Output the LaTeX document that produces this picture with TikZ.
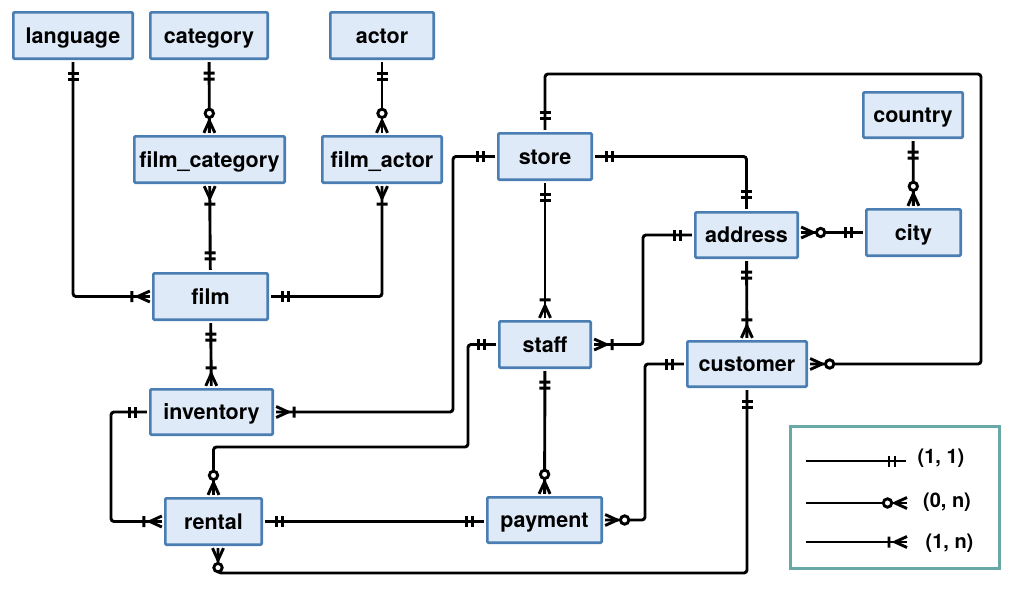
\documentclass[tikz,border=0pt]{standalone}
\usepackage{fontspec}
\setmainfont{TeX Gyre Heros}
\usetikzlibrary{arrows.meta}
\definecolor{boxfill}{RGB}{222,234,247}
\definecolor{boxline}{RGB}{74,126,178}
\definecolor{legline}{RGB}{104,168,166}

% (1,1): two bars
\pgfdeclarearrow{
  name = OneOne,
  parameters = {\the\pgflinewidth},
  setup code = {
    \pgfarrowssettipend{0pt}
    \pgfarrowssetlineend{0pt}
    \pgfarrowssetbackend{-20pt}
    \pgfarrowshullpoint{0pt}{6pt}
    \pgfarrowshullpoint{0pt}{-6pt}
    \pgfarrowshullpoint{-20pt}{6pt}
    \pgfarrowshullpoint{-20pt}{-6pt}
  },
  drawing code = {
    \pgfsetdash{}{0pt}
    \pgfsetbuttcap
    \pgfpathmoveto{\pgfqpoint{-11pt}{-5.5pt}}
    \pgfpathlineto{\pgfqpoint{-11pt}{5.5pt}}
    \pgfpathmoveto{\pgfqpoint{-17pt}{-5.5pt}}
    \pgfpathlineto{\pgfqpoint{-17pt}{5.5pt}}
    \pgfusepathqstroke
  },
}
% (1,n): crow's foot and a bar
\pgfdeclarearrow{
  name = OneMany,
  parameters = {\the\pgflinewidth},
  setup code = {
    \pgfarrowssettipend{0pt}
    \pgfarrowssetlineend{0pt}
    \pgfarrowssetbackend{-20pt}
    \pgfarrowshullpoint{0pt}{6pt}
    \pgfarrowshullpoint{0pt}{-6pt}
    \pgfarrowshullpoint{-20pt}{6pt}
    \pgfarrowshullpoint{-20pt}{-6pt}
  },
  drawing code = {
    \pgfsetdash{}{0pt}
    \pgfsetbuttcap
    \pgfsetmiterjoin
    \pgfpathmoveto{\pgfqpoint{0pt}{5.5pt}}
    \pgfpathlineto{\pgfqpoint{-12pt}{0pt}}
    \pgfpathlineto{\pgfqpoint{0pt}{-5.5pt}}
    \pgfpathmoveto{\pgfqpoint{-18pt}{-5.5pt}}
    \pgfpathlineto{\pgfqpoint{-18pt}{5.5pt}}
    \pgfusepathqstroke
  },
}
% (0,n): crow's foot and a circle
\pgfdeclarearrow{
  name = ZeroMany,
  parameters = {\the\pgflinewidth},
  setup code = {
    \pgfarrowssettipend{0pt}
    \pgfarrowssetlineend{0pt}
    \pgfarrowssetbackend{-25pt}
    \pgfarrowshullpoint{0pt}{6pt}
    \pgfarrowshullpoint{0pt}{-6pt}
    \pgfarrowshullpoint{-25pt}{6pt}
    \pgfarrowshullpoint{-25pt}{-6pt}
  },
  drawing code = {
    \pgfsetdash{}{0pt}
    \pgfsetbuttcap
    \pgfsetmiterjoin
    \pgfpathmoveto{\pgfqpoint{0pt}{5.5pt}}
    \pgfpathlineto{\pgfqpoint{-12pt}{0pt}}
    \pgfpathlineto{\pgfqpoint{0pt}{-5.5pt}}
    \pgfusepathqstroke
    \pgfscope
    \pgfsetfillcolor{white}
    \pgfpathcircle{\pgfqpoint{-19.5pt}{0pt}}{4.2pt}
    \pgfusepathqfillstroke
    \endpgfscope
  },
}

\begin{document}
\begin{tikzpicture}[x=1pt,y=-1pt,
  ent/.style={draw=boxline, fill=boxfill, line width=2.7pt, rounded corners=1pt,
    minimum height=46.3pt, inner sep=0pt, outer sep=3.5pt,
    text height=15.5pt, text depth=0pt,
    font=\fontsize{21.5}{24}\selectfont\bfseries},
  conn/.style={line width=2.9pt, rounded corners=3pt},
  legtext/.style={inner sep=0pt, text height=14.5pt, text depth=0pt,
    font=\fontsize{20}{24}\selectfont\bfseries}]
\useasboundingbox (0,0) rectangle (1013,589);

% entities
\node[ent, minimum width=119.3pt] (language) at (73,35.5) {language};
\node[ent, minimum width=117.3pt] (category) at (209,35.5) {category};
\node[ent, minimum width=103.3pt] (actor) at (382,35.5) {actor};
\node[ent, minimum width=150.3pt] (film_category) at (209.5,159.5) {film\_category};
\node[ent, minimum width=119.3pt] (film_actor) at (382,159.5) {film\_actor};
\node[ent, minimum width=114.3pt] (film) at (210.5,296.5) {film};
\node[ent, minimum width=93.3pt] (store) at (545,156.5) {store};
\node[ent, minimum width=99.3pt, minimum height=45.3pt] (country) at (913,115) {country};
\node[ent, minimum width=102.3pt, minimum height=45.3pt] (address) at (746.5,235) {address};
\node[ent, minimum width=94.3pt] (city) at (913.5,232.5) {city};
\node[ent, minimum width=91.3pt] (staff) at (545,344.5) {staff};
\node[ent, minimum width=119.3pt, minimum height=45.3pt] (customer) at (747,364) {customer};
\node[ent, minimum width=122.3pt, minimum height=45.3pt] (inventory) at (211.5,412) {inventory};
\node[ent, minimum width=96.3pt] (rental) at (213.5,521.5) {rental};
\node[ent, minimum width=114.3pt, minimum height=45.3pt] (payment) at (544.5,520) {payment};

% relationships
\draw[conn,{OneOne}-{OneMany}] (language) |- (film);
\draw[conn,{OneOne}-{ZeroMany}] (category) -- (film_category);
\draw[conn,{OneMany}-{OneOne}] (film_category) -- (film);
\draw[conn,{OneOne}-{ZeroMany}] (actor) -- (film_actor);
\draw[conn,{OneMany}-{OneOne}] (film_actor) |- (film);
\draw[conn,{OneOne}-{OneMany}] (film) -- (inventory);
\draw[conn,{OneMany}-{OneOne}] (inventory) -| (453,156.5) -- (store);
\draw[conn,{OneOne}-{OneMany}] (inventory) -| (111,521.5) -- (rental);
\draw[conn,{OneOne}-{ZeroMany}] (store) |- (981,74) |- (customer);
\draw[conn,{OneOne}-{OneOne}] (store) -| (address);
\draw[conn,{OneOne}-{OneMany}] (store) -- (staff);
\draw[conn,{ZeroMany}-{OneOne}] (address.east |- city) -- (city);
\draw[conn,{OneOne}-{ZeroMany}] (country) -- (city);
\draw[conn,{OneOne}-{OneMany}] (address) -| (643,344.5) -- (staff);
\draw[conn,{OneOne}-{OneMany}] (address) -- (customer);
\draw[conn,{OneOne}-{ZeroMany}] (staff) -| (468,447) -| (rental);
\draw[conn,{OneOne}-{ZeroMany}] (staff) -- (payment);
\draw[conn,{OneOne}-{ZeroMany}] (customer) -| (645,520) -- (payment);
\draw[conn,{OneOne}-{ZeroMany}] (customer) |- (218,573) -- ([xshift=4.5pt]rental.south);
\draw[conn,{OneOne}-{OneOne}] (rental) -- (rental -| payment.west);

% legend
\node[draw=legline, line width=2.7pt, minimum width=209.3pt, minimum height=142.3pt, inner sep=0pt] (legend) at (895,497.5) {};
\coordinate (l1a) at (806,461);
\coordinate (l1b) at (906,461);
\coordinate (l2a) at (806,503);
\coordinate (l2b) at (907,503);
\coordinate (l3a) at (806,542);
\coordinate (l3b) at (907,542);
\draw[conn,-{OneOne}] (l1a) -- (l1b);
\draw[conn,-{ZeroMany}] (l2a) -- (l2b);
\draw[conn,-{OneMany}] (l3a) -- (l3b);
\node[legtext] (t1) at (941,456) {(1, 1)};
\node[legtext] (t2) at (947,500.5) {(0, n)};
\node[legtext] (t3) at (949.5,541) {(1, n)};
\end{tikzpicture}
\end{document}
